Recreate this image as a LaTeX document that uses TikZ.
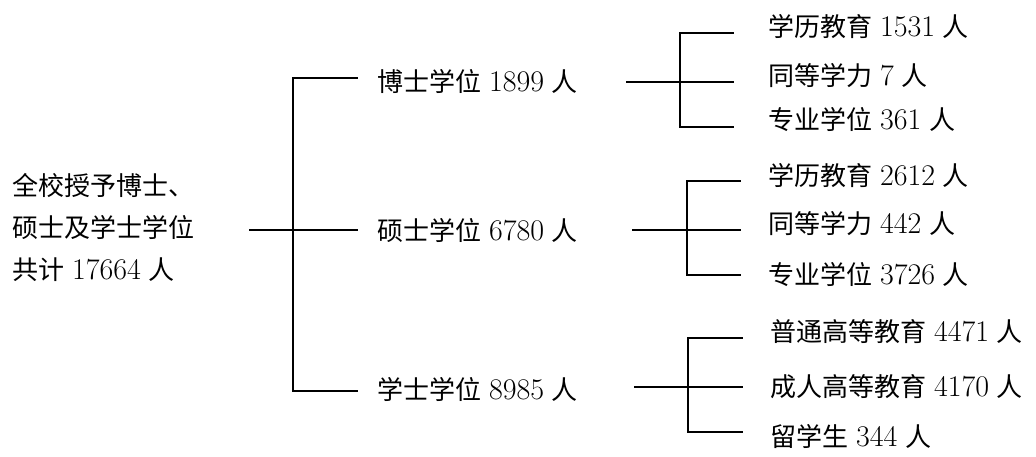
\documentclass[tikz,border=0pt]{standalone}
\usepackage{fontspec}
\newfontfamily\cjk{Noto Sans CJK SC}
\newcommand\dg[1]{{\fontsize{30}{42}\selectfont #1}}
\begin{document}
\begin{tikzpicture}[x=1pt,y=-1pt,
  lbl/.style={anchor=west,inner sep=0pt,font=\fontsize{26}{42}\selectfont,text height=19pt,text depth=4pt},
  br/.style={line width=1.6pt,line cap=rect}]
\useasboundingbox (0,0) rectangle (1036,456);
% root
\node[lbl,align=left,text height=,text depth=] (root) at (12,227)
 {{\cjk 全校授予博士、}\\{\cjk 硕士及学士学位}\\{\cjk 共计} \dg{17664} {\cjk 人}};
% level 2
\node[lbl] (phd) at (377,84) {{\cjk 博士学位} \dg{1899} {\cjk 人}};
\node[lbl] (ms) at (377,233) {{\cjk 硕士学位} \dg{6780} {\cjk 人}};
\node[lbl] (bs) at (377,392) {{\cjk 学士学位} \dg{8985} {\cjk 人}};
% level 3
\node[lbl] (p1) at (768,29) {{\cjk 学历教育} \dg{1531} {\cjk 人}};
\node[lbl] (p2) at (768,78) {{\cjk 同等学力} \dg{7} {\cjk 人}};
\node[lbl] (p3) at (768,122) {{\cjk 专业学位} \dg{361} {\cjk 人}};
\node[lbl] (m1) at (768,178) {{\cjk 学历教育} \dg{2612} {\cjk 人}};
\node[lbl] (m2) at (768,226) {{\cjk 同等学力} \dg{442} {\cjk 人}};
\node[lbl] (m3) at (768,277) {{\cjk 专业学位} \dg{3726} {\cjk 人}};
\node[lbl] (b1) at (770,334) {{\cjk 普通高等教育} \dg{4471} {\cjk 人}};
\node[lbl] (b2) at (770,389) {{\cjk 成人高等教育} \dg{4170} {\cjk 人}};
\node[lbl] (b3) at (770,439) {{\cjk 留学生} \dg{344} {\cjk 人}};
% main bracket
\coordinate (r0) at (250,230);
\coordinate (rt) at (293,78);
\coordinate (rm) at (293,230);
\coordinate (rb) at (293,391);
\coordinate (rte) at (357,78);
\coordinate (rme) at (357,230);
\coordinate (rbe) at (357,391);
\draw[br] (rt) -- (rb);
\draw[br] (rt) -- (rte);
\draw[br] (r0) -- (rme);
\draw[br] (rb) -- (rbe);
% doctor bracket
\coordinate (d0) at (627,82);
\coordinate (dt) at (680,33);
\coordinate (db) at (680,127);
\coordinate (dte) at (733,33);
\coordinate (dme) at (733,82);
\coordinate (dbe) at (733,127);
\draw[br] (dt) -- (db);
\draw[br] (dt) -- (dte);
\draw[br] (d0) -- (dme);
\draw[br] (db) -- (dbe);
% master bracket
\coordinate (s0) at (633,230);
\coordinate (st) at (687,181);
\coordinate (sb) at (687,275);
\coordinate (ste) at (740,181);
\coordinate (sme) at (740,230);
\coordinate (sbe) at (740,275);
\draw[br] (st) -- (sb);
\draw[br] (st) -- (ste);
\draw[br] (s0) -- (sme);
\draw[br] (sb) -- (sbe);
% bachelor bracket
\coordinate (u0) at (635,387);
\coordinate (ut) at (688,338);
\coordinate (ub) at (688,432);
\coordinate (ute) at (742,338);
\coordinate (ume) at (742,387);
\coordinate (ube) at (742,432);
\draw[br] (ut) -- (ub);
\draw[br] (ut) -- (ute);
\draw[br] (u0) -- (ume);
\draw[br] (ub) -- (ube);
\end{tikzpicture}
\end{document}
